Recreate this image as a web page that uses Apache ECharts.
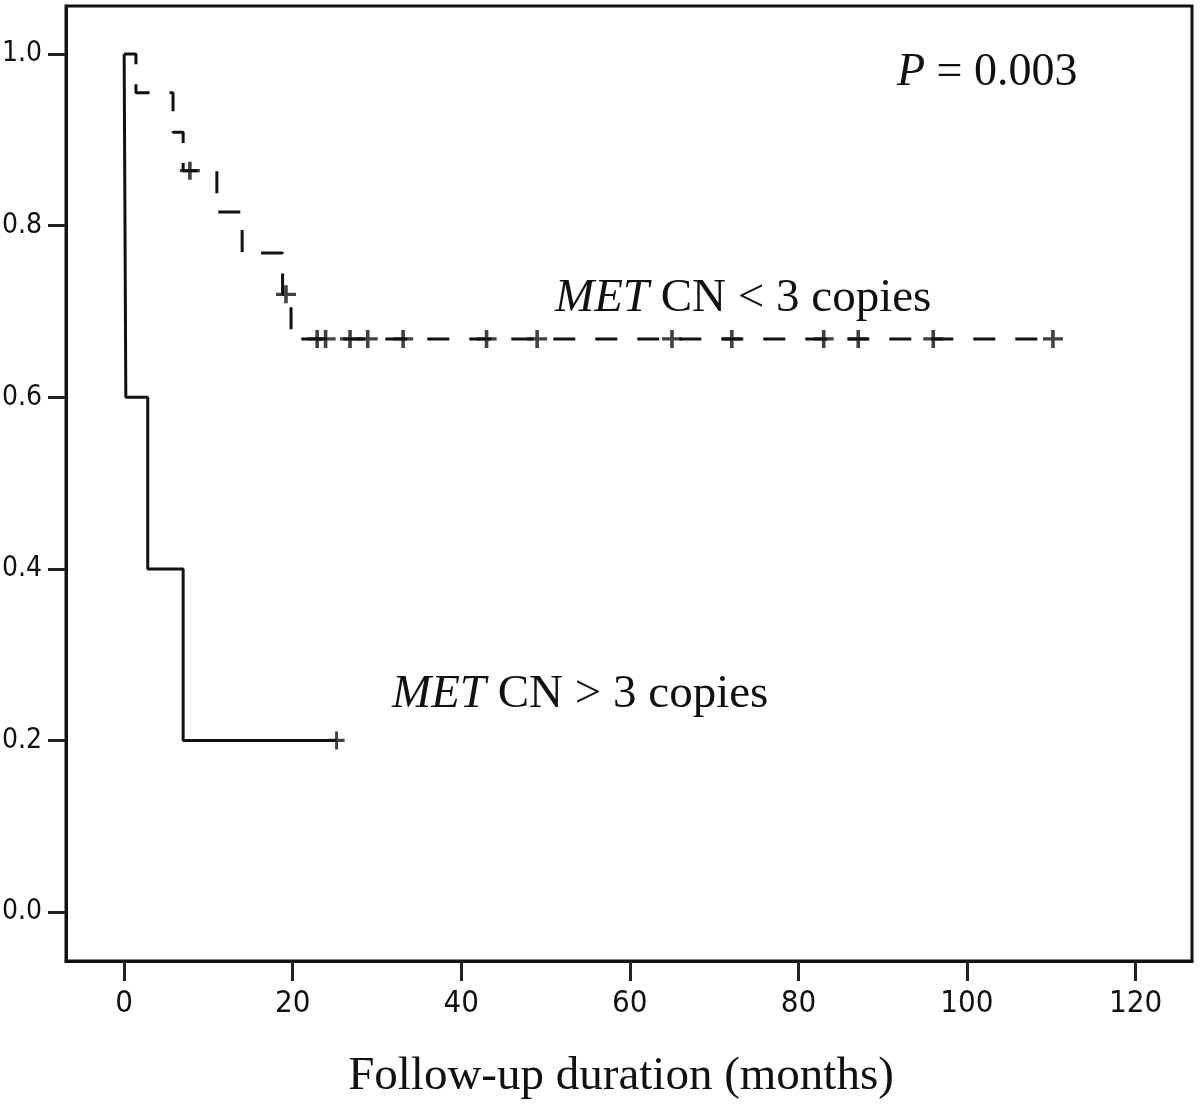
<!DOCTYPE html>
<html>
<head>
<meta charset="utf-8">
<script src="https://cdn.jsdelivr.net/npm/echarts@6/dist/echarts.min.js"></script>
<style>html,body{margin:0;padding:0;background:#fff}#c{width:1200px;height:1110px}</style>
</head>
<body>
<div id="c"></div>
<script>
// MET CN < 3 copies (dashed): step times and survival after each step
const lowTimes = [0, 1.4, 5.8, 7.0, 11.0, 14.0, 18.8, 19.8, 110.2];
const lowSurv  = [1.0, 0.955, 0.909, 0.864, 0.816, 0.768, 0.720, 0.668, 0.668];
// censored marks for MET CN < 3 copies
const lowCensTimes = [7.8, 19.2, 22.9, 23.9, 26.8, 28.9, 33.1, 43.0, 49.0, 65.0, 72.1, 83.0, 87.1, 96.0, 110.2];
const lowCensSurv  = [0.864, 0.720, 0.668, 0.668, 0.668, 0.668, 0.668, 0.668, 0.668, 0.668, 0.668, 0.668, 0.668, 0.668, 0.668];
// MET CN > 3 copies (solid)
const highTimes = [0, 0.2, 2.8, 7.0, 25.2];
const highSurv  = [1.0, 0.6, 0.4, 0.2, 0.2];
const highCensTimes = [25.2];
const highCensSurv  = [0.2];
// tick labels
const xTicks = [0, 20, 40, 60, 80, 100, 120];
const yTicks = [0.0, 0.2, 0.4, 0.6, 0.8, 1.0];

const zip = (a, b) => a.map((v, i) => [v, b[i]]);
const plus = 'path://M-1.8,-10L1.8,-10L1.8,-1.8L10,-1.8L10,1.8L1.8,1.8L1.8,10L-1.8,10L-1.8,1.8L-10,1.8L-10,-1.8L-1.8,-1.8Z';
const tickFont = "'Liberation Sans Narrow','DejaVu Sans Condensed',sans-serif";
const serif = "'Liberation Serif','Times New Roman',serif";

const chart = echarts.init(document.getElementById('c'), null, {renderer: 'canvas'});
chart.setOption({
  animation: false,
  backgroundColor: '#fff',
  grid: {left: 66, right: 8, top: 6, bottom: 149, outerBoundsMode: 'none', containLabel: false,
    show: true, borderColor: '#111', borderWidth: 3, backgroundColor: 'transparent'},
  xAxis: {
    type: 'value', min: -6.9, max: 126.7,
    axisLine: {show: true, onZero: false, lineStyle: {color: '#111', width: 3}},
    axisTick: {show: true, length: 20, customValues: xTicks, lineStyle: {color: '#222', width: 3}},
    axisLabel: {show: true, customValues: xTicks, margin: 27, fontFamily: tickFont, fontSize: 31, color: '#111'},
    splitLine: {show: false},
    name: 'Follow-up duration (months)', nameLocation: 'middle', nameGap: 92,
    nameTextStyle: {fontFamily: serif, fontSize: 47, color: '#111', padding: [0, 16, 0, 0]}
  },
  yAxis: {
    type: 'value', min: -0.057, max: 1.056,
    axisLine: {show: true, onZero: false, lineStyle: {color: '#111', width: 3}},
    axisTick: {show: true, length: 18, customValues: yTicks, lineStyle: {color: '#222', width: 3}},
    axisLabel: {show: true, customValues: yTicks, margin: 24, fontFamily: tickFont, fontSize: 28, color: '#111',
      formatter: v => v.toFixed(1)},
    splitLine: {show: false}
  },
  series: [
    {type: 'line', step: 'end', data: zip(lowTimes, lowSurv), showSymbol: false,
     lineStyle: {color: '#111', width: 3, type: [22, 20]}},
    {type: 'line', step: 'end', data: zip(highTimes, highSurv), showSymbol: false,
     lineStyle: {color: '#111', width: 3}},
    {type: 'scatter', data: zip(lowCensTimes, lowCensSurv), symbol: plus, symbolSize: [20, 18],
     itemStyle: {color: '#111'}},
    {type: 'scatter', data: zip(highCensTimes, highCensSurv), symbol: plus, symbolSize: [16, 18],
     itemStyle: {color: '#111'}}
  ],
  graphic: [
    {type: 'text', left: 555, top: 275, style: {text: '{i|MET} CN < 3 copies', font: '47px ' + serif, fill: '#111',
      rich: {i: {fontStyle: 'italic', fontFamily: serif, fontSize: 47, fill: '#111'}}}},
    {type: 'text', left: 392, top: 671, style: {text: '{i|MET} CN > 3 copies', font: '47px ' + serif, fill: '#111',
      rich: {i: {fontStyle: 'italic', fontFamily: serif, fontSize: 47, fill: '#111'}}}},
    {type: 'text', left: 897, top: 50, style: {text: '{i|P} = 0.003', font: '46px ' + serif, fill: '#111',
      rich: {i: {fontStyle: 'italic', fontFamily: serif, fontSize: 46, fill: '#111'}}}}
  ]
});
</script>
</body>
</html>
